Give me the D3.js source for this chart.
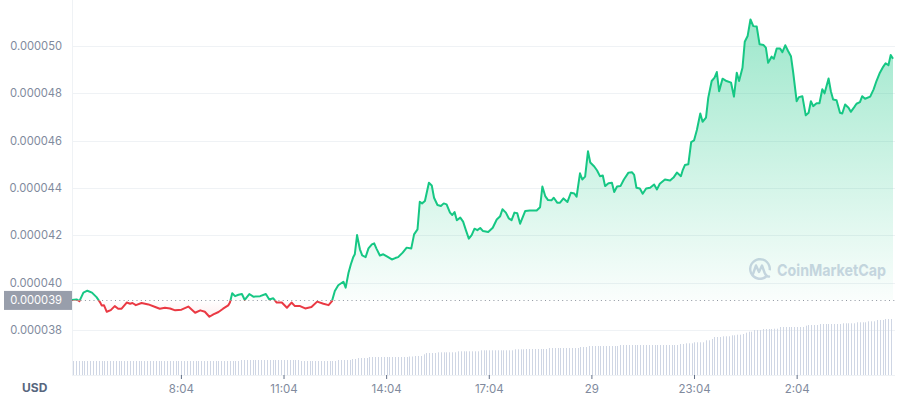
<!DOCTYPE html>
<html>
<head>
<meta charset="utf-8">
<script src="https://cdn.jsdelivr.net/npm/d3@7"></script>
<style>
  html, body { margin: 0; padding: 0; background: #fff; }
  svg { display: block; font-family: Inter, "Noto Sans", sans-serif; }
</style>
</head>
<body>
<svg id="chart" width="913" height="400"></svg>
<script>
// ---- DATA ----
// minutes since the window opened (24h window, opens 4:53)
const minutesFromOpen = [0,8,13,20,27,35,43,49,52,56,61,68,75,81,87,96,102,106,112,122,134,146,154,163,172,181,192,204,216,225,233,241,248,257,265,274,277,281,286,292,298,303,311,318,330,340,346,353,359,368,377,385,391,400,409,420,430,441,450,456,461,467,476,480,485,489,493,496,500,505,509,515,520,526,530,534,540,546,553,561,567,572,580,587,595,600,606,610,614,619,626,631,635,641,647,652,657,663,667,671,675,681,686,691,696,701,706,711,716,721,730,738,745,751,755,761,766,771,776,781,786,795,803,815,821,825,830,835,841,845,851,856,862,869,875,881,885,891,895,900,905,909,916,921,926,931,935,941,947,951,956,962,968,976,982,986,990,996,1001,1007,1014,1021,1026,1031,1040,1049,1055,1061,1068,1071,1075,1081,1086,1091,1096,1102,1106,1112,1116,1122,1127,1131,1135,1141,1148,1156,1161,1166,1170,1176,1180,1185,1190,1195,1201,1206,1213,1217,1221,1227,1231,1236,1242,1246,1251,1256,1261,1265,1271,1275,1281,1287,1292,1296,1300,1306,1311,1316,1320,1327,1331,1335,1341,1347,1351,1356,1362,1366,1372,1376,1382,1386,1391,1400,1406,1411,1417,1423,1427,1432,1436,1440];
// price in micro-USD (x 1e-6 USD)
const priceMicroUSD = [39.27,39.29,39.22,39.58,39.66,39.58,39.39,39.18,39.04,39.05,38.77,38.84,39.01,38.90,38.90,39.16,39.11,39.14,39.05,39.14,39.08,38.97,38.90,38.94,38.91,38.83,38.86,38.99,38.73,38.83,38.77,38.56,38.66,38.76,38.90,39.04,39.16,39.55,39.43,39.49,39.52,39.27,39.52,39.41,39.43,39.52,39.29,39.34,39.16,39.16,38.94,39.16,39.01,39.01,38.91,38.97,39.20,39.11,39.05,39.22,39.65,39.89,40.04,39.79,40.42,40.77,41.06,41.20,42.01,41.41,41.15,41.08,41.45,41.62,41.66,41.44,41.15,41.20,41.10,40.98,41.04,41.08,41.27,41.48,41.44,42.04,42.25,43.42,43.35,43.45,44.22,44.11,43.59,43.28,43.24,43.35,43.31,42.96,42.86,42.98,42.64,42.75,42.58,42.21,41.86,42.01,42.28,42.22,42.31,42.18,42.14,42.32,42.67,42.81,43.10,42.96,42.72,42.64,42.96,42.93,42.49,43.03,43.05,43.05,43.19,44.06,43.66,43.49,43.48,43.59,43.38,43.38,43.56,43.41,43.80,43.77,43.63,44.62,44.36,44.48,45.55,45.08,44.91,44.74,44.50,44.53,44.08,44.20,44.22,43.83,44.06,44.08,44.36,44.65,44.67,44.55,44.01,43.98,43.76,43.98,44.01,44.15,43.94,44.18,44.36,44.32,44.44,44.65,44.50,44.74,44.97,45.00,45.94,46.01,46.45,47.15,46.80,46.97,47.82,48.52,48.66,48.90,48.09,48.62,48.52,48.45,47.86,48.87,48.52,49.08,50.18,50.42,51.12,50.84,50.82,50.07,50.04,49.93,49.29,49.55,49.46,49.89,49.89,49.74,50.03,49.79,49.57,48.87,47.67,47.84,47.88,47.07,47.18,47.67,47.46,47.58,47.58,48.17,48.00,48.63,48.09,47.74,47.71,47.18,47.15,47.53,47.39,47.22,47.42,47.56,47.63,47.88,47.77,47.86,48.17,48.52,48.87,49.13,49.27,49.19,49.62,49.46];
const baselinePrice = 0.00003925;          // opening reference price
const baselineLabel = "0.000039";
// 5-minute volume bars, run-length encoded: [volume (M USD), number of bars]
const volumeSteps = [[1.40,59],[1.50,21],[1.40,13],[1.50,5],[1.60,2],[1.70,4],[1.80,14],[1.85,2],[1.90,3],[2.07,1],[2.20,4],[2.27,7],[2.37,8],[2.47,12],[2.57,4],[2.60,8],[2.70,11],[2.80,3],[2.90,11],[3.00,21],[3.10,2],[3.17,3],[3.27,4],[3.47,2],[3.60,1],[3.80,3],[3.87,3],[3.97,2],[4.03,2],[4.10,1],[4.23,1],[4.33,2],[4.50,3],[4.60,4],[4.63,2],[4.80,9],[4.93,1],[5.00,4],[5.10,8],[5.17,5],[5.27,4],[5.37,3],[5.50,3],[5.60,3]];
const barIntervalMinutes = 5;
const yTickValues = [0.000038,0.000040,0.000042,0.000044,0.000046,0.000048,0.000050];
const xTickMinutes = [191,371,551,731,911,1091,1271];
const xTickLabels = ["8:04","11:04","14:04","17:04","29","23:04","2:04"];
const currencyLabel = "USD";
const watermark = "CoinMarketCap";

// ---- BUILD ----
const priceData = minutesFromOpen.map((m, i) => ({ t: m, p: priceMicroUSD[i] * 1e-6 }));
const volumeData = [];
volumeSteps.forEach(([v, n]) => { for (let k = 0; k < n; k++) volumeData.push({ t: volumeData.length * barIntervalMinutes, v }); });

const W = 913, H = 400;
const left = 72, right = 895, plotRightData = 893;
const GREEN = "#16c784", RED = "#ea3943";

const svg = d3.select("#chart");
svg.append("rect").attr("width", W).attr("height", H).attr("fill", "#fff");

const x = d3.scaleLinear().domain([0, 1440]).range([left, plotRightData]);
const y = d3.scaleLinear().domain([0.000038, 0.000050]).range([330, 46]);
const yVol = d3.scaleLinear().domain([0, 5.6]).range([375, 319]);

const defs = svg.append("defs");
const baseY = y(baselinePrice);
const topY = y(d3.max(priceData, d => d.p));
const botY = y(d3.min(priceData, d => d.p));

const gG = defs.append("linearGradient").attr("id", "gGreen").attr("gradientUnits", "userSpaceOnUse")
  .attr("x1", 0).attr("x2", 0).attr("y1", topY).attr("y2", baseY);
gG.append("stop").attr("offset", 0).attr("stop-color", GREEN).attr("stop-opacity", 0.42);
gG.append("stop").attr("offset", 1).attr("stop-color", GREEN).attr("stop-opacity", 0.02);
const gR = defs.append("linearGradient").attr("id", "gRed").attr("gradientUnits", "userSpaceOnUse")
  .attr("x1", 0).attr("x2", 0).attr("y1", baseY).attr("y2", botY);
gR.append("stop").attr("offset", 0).attr("stop-color", RED).attr("stop-opacity", 0.0);
gR.append("stop").attr("offset", 1).attr("stop-color", RED).attr("stop-opacity", 0.08);

defs.append("clipPath").attr("id", "clipAbove").append("rect")
  .attr("x", 0).attr("y", 0).attr("width", W).attr("height", baseY);
defs.append("clipPath").attr("id", "clipBelow").append("rect")
  .attr("x", 0).attr("y", baseY).attr("width", W).attr("height", H - baseY);

// gridlines
svg.append("g").selectAll("line").data(yTickValues).join("line")
  .attr("x1", left).attr("x2", right)
  .attr("y1", d => Math.round(y(d)) + 0.5).attr("y2", d => Math.round(y(d)) + 0.5)
  .attr("stroke", "#eff2f5").attr("stroke-width", 1);

// volume bars
svg.append("g").selectAll("line").data(volumeData).join("line")
  .attr("x1", d => Math.round(x(d.t)) + 1.5).attr("x2", d => Math.round(x(d.t)) + 1.5)
  .attr("y1", yVol(0)).attr("y2", d => yVol(d.v))
  .attr("stroke", "#cfd6e4").attr("stroke-width", 1);

// axes lines
svg.append("line").attr("x1", left + 0.5).attr("x2", left + 0.5).attr("y1", 0).attr("y2", 375)
  .attr("stroke", "#eff2f5");
svg.append("line").attr("x1", left).attr("x2", right).attr("y1", 375.5).attr("y2", 375.5)
  .attr("stroke", "#eff2f5");

// watermark
const wm = svg.append("g").attr("transform", "translate(760,269)");
wm.append("path")
  .attr("d", d3.arc()({ innerRadius: 8.6, outerRadius: 11, startAngle: 2.45, endAngle: 2.45 + 2 * Math.PI - 0.75 }))
  .attr("fill", "#cfd6e4");
wm.append("path")
  .attr("d", "M-7,5 L-4,-3.5 L-1,3 L2,-3.5 L4.5,3.5 C5.5,6 7,8 9,7.5")
  .attr("fill", "none").attr("stroke", "#cfd6e4").attr("stroke-width", 2.4)
  .attr("stroke-linejoin", "round").attr("stroke-linecap", "round");
svg.append("text").attr("x", 777).attr("y", 275.5).text(watermark)
  .attr("font-size", 16.5).attr("font-weight", 700).attr("fill", "#cfd6e4")
  .attr("textLength", 109).attr("lengthAdjust", "spacingAndGlyphs");

// areas
const area = d3.area().x(d => x(d.t)).y0(baseY).y1(d => y(d.p));
svg.append("path").datum(priceData).attr("d", area).attr("fill", "url(#gGreen)").attr("clip-path", "url(#clipAbove)");
svg.append("path").datum(priceData).attr("d", area).attr("fill", "url(#gRed)").attr("clip-path", "url(#clipBelow)");

// baseline dotted
svg.append("line").attr("x1", left).attr("x2", right).attr("y1", Math.round(baseY) + 0.5).attr("y2", Math.round(baseY) + 0.5)
  .attr("stroke", "#8f95a0").attr("stroke-width", 1).attr("stroke-dasharray", "1,3.3");

// price lines
const line = d3.line().x(d => x(d.t)).y(d => y(d.p));
svg.append("path").datum(priceData).attr("d", line).attr("fill", "none").attr("stroke", GREEN)
  .attr("stroke-width", 2).attr("stroke-linejoin", "round").attr("clip-path", "url(#clipAbove)");
svg.append("path").datum(priceData).attr("d", line).attr("fill", "none").attr("stroke", RED)
  .attr("stroke-width", 2).attr("stroke-linejoin", "round").attr("clip-path", "url(#clipBelow)");

// y axis labels
const yAxis = d3.axisLeft(y).tickValues(yTickValues).tickSize(0).tickPadding(0)
  .tickFormat(d => d.toFixed(6));
const ya = svg.append("g").attr("transform", `translate(62,0)`).call(yAxis);
ya.select(".domain").remove();
ya.selectAll("text").attr("fill", "#808a9d").attr("font-size", 11.2).attr("font-family", "Inter, sans-serif");

// baseline label box
svg.append("rect").attr("x", 4).attr("y", baseY - 9.5).attr("width", 68).attr("height", 19)
  .attr("fill", "#989eab");
svg.append("text").attr("x", 62).attr("y", baseY).attr("dy", "0.32em").attr("text-anchor", "end")
  .attr("fill", "#ffffff").attr("font-size", 11.2).text(baselineLabel);

// x axis
const xAxis = d3.axisBottom(x).tickValues(xTickMinutes).tickSize(4).tickPadding(6)
  .tickFormat((d, i) => xTickLabels[i]);
const xa = svg.append("g").attr("transform", "translate(0,375)").call(xAxis);
xa.select(".domain").remove();
xa.selectAll(".tick line").attr("stroke", "#616e85");
xa.selectAll("text").attr("fill", "#808a9d").attr("font-size", 11.5).attr("font-family", "Inter, sans-serif");

svg.append("text").attr("x", 22).attr("y", 392).text(currencyLabel)
  .attr("font-size", 12).attr("font-weight", 700).attr("fill", "#58667e");
</script>
</body>
</html>
